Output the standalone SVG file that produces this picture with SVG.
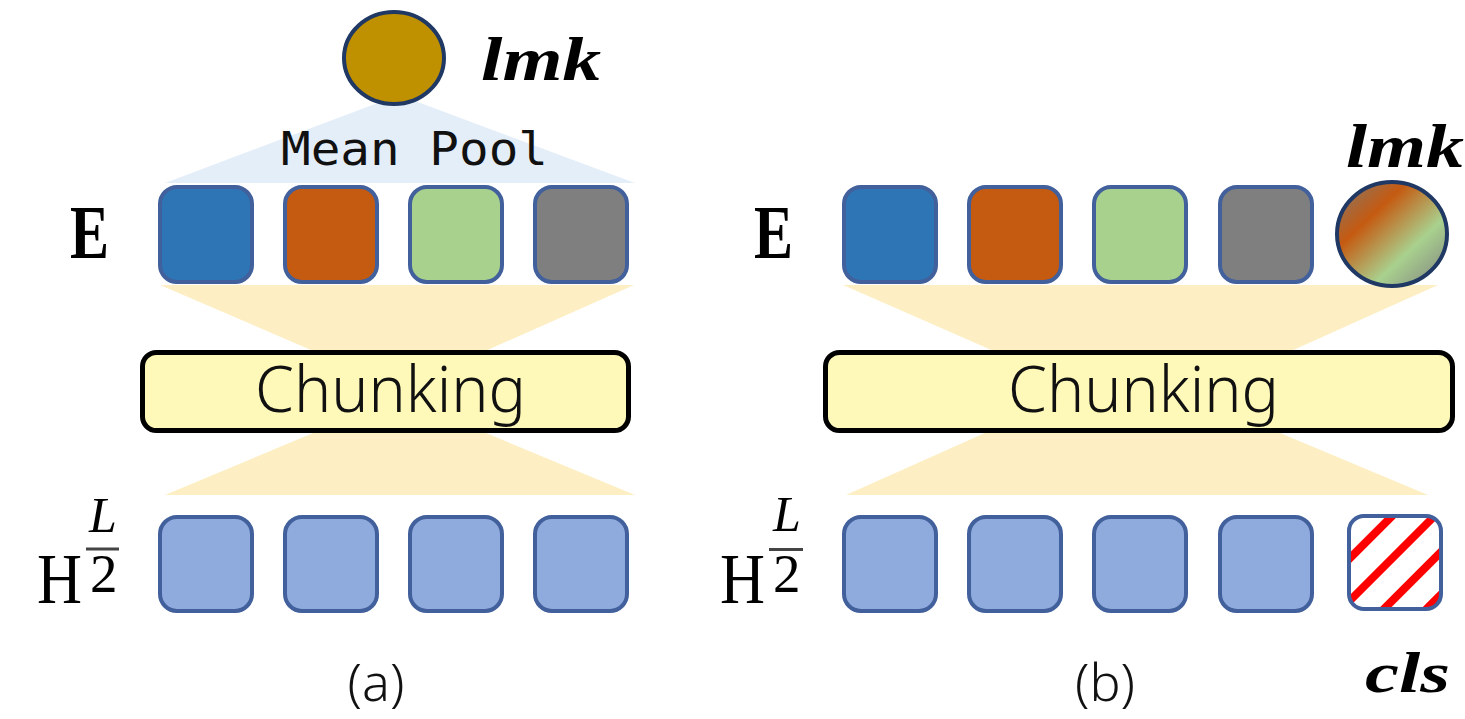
<svg xmlns="http://www.w3.org/2000/svg" width="1465" height="719" viewBox="0 0 1465 719">
<style>
.box{stroke:#41609c;stroke-width:4}
.e1{fill:#2e75b6}.e2{fill:#c55a11}.e3{fill:#a9d18e}.e4{fill:#7f7f7f}
.h{fill:#8faadc}
.fan{fill:#fdefc3}
.chunk{fill:#fff9b9;stroke:#000;stroke-width:5}
.ctext{font-family:"Noto Sans","Open Sans",sans-serif;font-weight:300;font-size:64px;fill:#111}
.sym{font-family:"Liberation Serif",serif;fill:#000}
.bi{font-family:"Liberation Serif",serif;font-weight:bold;font-style:italic;fill:#000}
.cap{font-family:"Noto Sans","Open Sans",sans-serif;font-weight:300;font-size:52px;fill:#111}
</style>
<defs>
<linearGradient id="mix" x1="0" y1="0" x2="1" y2="1">
<stop offset="0" stop-color="#7f7a70"/>
<stop offset="0.32" stop-color="#c55a11"/>
<stop offset="0.66" stop-color="#a9d18e"/>
<stop offset="1" stop-color="#7f7f7f"/>
</linearGradient>
<pattern id="hatch" patternUnits="userSpaceOnUse" width="30" height="30" patternTransform="translate(1345 515) rotate(45)">
<rect width="30" height="30" fill="#fff"/>
<rect x="0" y="0" width="8" height="30" fill="#ff0000"/>
</pattern>
</defs>

<g id="connectors">
<polygon id="meanpool-fan" points="165,183 635,183 399,95" fill="#e4eef9"/>
<polygon class="fan" points="160,285 634,285 474,356 325,356"/>
<polygon class="fan" points="325,428 474,428 635,495 165,495"/>
<polygon class="fan" points="843,285 1438,285 1280,356 1005,356"/>
<polygon class="fan" points="996,428 1268,428 1428,495 846,495"/>
</g>

<g id="panel-a">
<g id="a-lmk">
<ellipse cx="394" cy="58" rx="50" ry="46" fill="#bf9000" stroke="#1f3864" stroke-width="4"/>
<text class="bi" x="481" y="80" font-size="62" textLength="120" lengthAdjust="spacingAndGlyphs">lmk</text>
</g>
<text id="a-meanpool" x="281" y="165" font-family="DejaVu Sans Mono,Liberation Mono,monospace" font-size="46" fill="#111" textLength="267" lengthAdjust="spacingAndGlyphs">Mean Pool</text>
<text id="a-E" class="sym" x="70" y="258" font-size="76" font-weight="bold" textLength="39" lengthAdjust="spacingAndGlyphs">E</text>
<g id="a-e1"><rect class="box e1" x="160" y="187" width="92" height="95" rx="17"/></g>
<g id="a-e2"><rect class="box e2" x="285" y="187" width="92" height="95" rx="17"/></g>
<g id="a-e3"><rect class="box e3" x="410" y="187" width="92" height="95" rx="17"/></g>
<g id="a-e4"><rect class="box e4" x="535" y="187" width="92" height="95" rx="17"/></g>
<g id="a-chunking">
<rect class="chunk" x="142.5" y="352.5" width="486" height="78" rx="14"/>
<text class="ctext" x="255" y="412" textLength="271" lengthAdjust="spacingAndGlyphs">Chunking</text>
</g>
<g id="a-H">
<text class="sym" x="37" y="603" font-size="72" textLength="45" lengthAdjust="spacingAndGlyphs">H</text>
<text class="sym" x="89" y="532" font-size="50" font-style="italic">L</text>
<rect x="86" y="547.5" width="33" height="3" fill="#444"/>
<text class="sym" x="90" y="592" font-size="55">2</text>
</g>
<g id="a-h1"><rect class="box h" x="160" y="517" width="92" height="94" rx="17"/></g>
<g id="a-h2"><rect class="box h" x="285" y="517" width="92" height="94" rx="17"/></g>
<g id="a-h3"><rect class="box h" x="410" y="517" width="92" height="94" rx="17"/></g>
<g id="a-h4"><rect class="box h" x="535" y="517" width="92" height="94" rx="17"/></g>
<text id="a-caption" class="cap" x="376" y="701" text-anchor="middle">(a)</text>
</g>

<g id="panel-b">
<text id="b-E" class="sym" x="754" y="258" font-size="76" font-weight="bold" textLength="39" lengthAdjust="spacingAndGlyphs">E</text>
<g id="b-e1"><rect class="box e1" x="844" y="187" width="92" height="95" rx="17"/></g>
<g id="b-e2"><rect class="box e2" x="969" y="187" width="92" height="95" rx="17"/></g>
<g id="b-e3"><rect class="box e3" x="1094" y="187" width="92" height="95" rx="17"/></g>
<g id="b-e4"><rect class="box e4" x="1220" y="187" width="92" height="95" rx="17"/></g>
<g id="b-lmk">
<ellipse cx="1392" cy="234" rx="55" ry="52" fill="url(#mix)" stroke="#1f3864" stroke-width="4"/>
<text class="bi" x="1346" y="167" font-size="62" textLength="118" lengthAdjust="spacingAndGlyphs">lmk</text>
</g>
<g id="b-chunking">
<rect class="chunk" x="825.5" y="352.5" width="627" height="78" rx="14"/>
<text class="ctext" x="1008" y="412" textLength="271" lengthAdjust="spacingAndGlyphs">Chunking</text>
</g>
<g id="b-H">
<text class="sym" x="720" y="603" font-size="72" textLength="45" lengthAdjust="spacingAndGlyphs">H</text>
<text class="sym" x="773" y="531" font-size="50" font-style="italic">L</text>
<rect x="769" y="548" width="34" height="3" fill="#444"/>
<text class="sym" x="773" y="592" font-size="55">2</text>
</g>
<g id="b-h1"><rect class="box h" x="844" y="517" width="92" height="94" rx="17"/></g>
<g id="b-h2"><rect class="box h" x="969" y="517" width="92" height="94" rx="17"/></g>
<g id="b-h3"><rect class="box h" x="1094" y="517" width="92" height="94" rx="17"/></g>
<g id="b-h4"><rect class="box h" x="1220" y="517" width="92" height="94" rx="17"/></g>
<g id="b-cls">
<rect class="box" x="1349" y="516" width="92" height="93" rx="15" fill="url(#hatch)"/>
<text class="bi" x="1365" y="692" font-size="58" textLength="85" lengthAdjust="spacingAndGlyphs">cls</text>
</g>
<text id="b-caption" class="cap" x="1105" y="701" text-anchor="middle">(b)</text>
</g>
</svg>
